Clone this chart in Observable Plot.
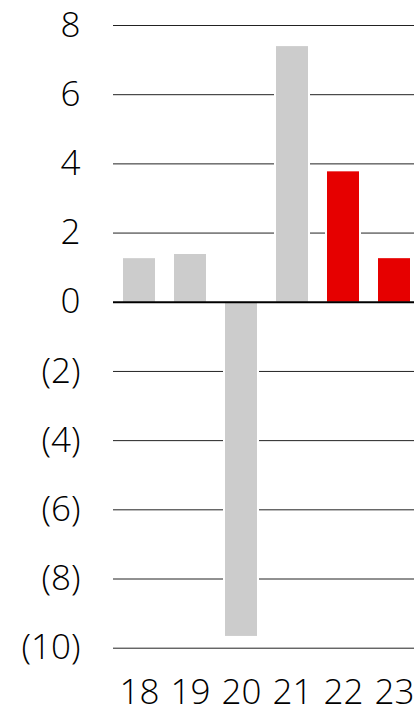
<!DOCTYPE html>
<html>
<head>
<meta charset="utf-8">
<script src="https://cdn.jsdelivr.net/npm/d3@7"></script>
<script src="https://cdn.jsdelivr.net/npm/@observablehq/plot@0.6"></script>
<style>
  html, body { margin: 0; padding: 0; background: #fff; overflow: hidden; }
</style>
</head>
<body>
<div id="chart"></div>
<script>
const years = ["18", "19", "20", "21", "22", "23"];
const values = [1.26, 1.38, -9.66, 7.39, 3.77, 1.26];
const highlighted = [false, false, false, false, true, true];
const yTicks = [-10, -8, -6, -4, -2, 0, 2, 4, 6, 8];

const data = years.map((y, i) => ({year: y, value: values[i], hi: highlighted[i]}));
const fmt = v => v < 0 ? `(${-v})` : `${v}`;

const chart = Plot.plot({
  width: 414,
  height: 711,
  marginTop: 25,
  marginBottom: 63.3,
  marginLeft: 113,
  marginRight: 0,
  style: {fontFamily: "'Open Sans', sans-serif", fontSize: "35px", fontWeight: 350, color: "#000", background: "#fff"},
  x: {domain: years, range: [113, 420.3], paddingInner: 0.369, paddingOuter: 0.185},
  y: {domain: [-10, 8]},
  marks: [
    Plot.ruleY(yTicks.filter(t => t !== 0), {stroke: "#222", strokeWidth: 1}),
    Plot.barY(data, {x: "year", y: "value", fill: "#fff", insetLeft: -2, insetRight: -2}),
    Plot.barY(data, {x: "year", y: "value", fill: d => d.hi ? "#e60000" : "#cccccc"}),
    Plot.ruleY([0], {stroke: "#000", strokeWidth: 2}),
    Plot.axisY({ticks: yTicks, tickFormat: fmt, tickSize: 0, tickPadding: 33, fontSize: 35, label: null}),
    Plot.axisX({tickSize: 0, tickPadding: 31, fontSize: 35, label: null})
  ]
});
document.getElementById("chart").appendChild(chart);
</script>
</body>
</html>
